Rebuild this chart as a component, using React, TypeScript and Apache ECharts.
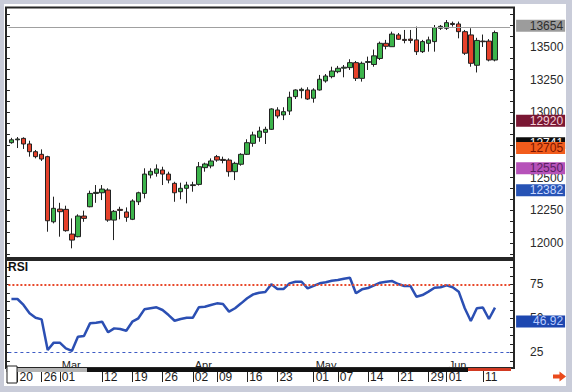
import React, { useEffect, useRef } from "react";
import * as echarts from "echarts";

const FONT = "'Liberation Sans', Arial, sans-serif";

// trading days (MM-DD), Feb 16 .. Jun 13
const dates = [
  "02-16", "02-20", "02-21", "02-22", "02-23",
  "02-26", "02-27", "02-28", "03-01", "03-02",
  "03-05", "03-06", "03-07", "03-08", "03-09",
  "03-12", "03-13", "03-14", "03-15", "03-16",
  "03-19", "03-20", "03-21", "03-22", "03-23",
  "03-26", "03-27", "03-28", "03-29", "03-30",
  "04-02", "04-03", "04-04", "04-05",
  "04-09", "04-10", "04-11", "04-12", "04-13",
  "04-16", "04-17", "04-18", "04-19", "04-20",
  "04-23", "04-24", "04-25", "04-26", "04-27",
  "04-30", "05-01", "05-02", "05-03", "05-04",
  "05-07", "05-08", "05-09", "05-10", "05-11",
  "05-14", "05-15", "05-16", "05-17", "05-18",
  "05-21", "05-22", "05-23", "05-24", "05-25",
  "05-29", "05-30", "05-31", "06-01",
  "06-04", "06-05", "06-06", "06-07", "06-08",
  "06-11", "06-12", "06-13",
];

// [open, close, low, high]
const ohlc = [
  [12768, 12790, 12760, 12805], [12790, 12796, 12727, 12811], [12801, 12758, 12720, 12809],
  [12758, 12699, 12661, 12783], [12699, 12661, 12648, 12712], [12679, 12643, 12628, 12717],
  [12661, 12171, 12087, 12668], [12163, 12266, 12151, 12355], [12260, 12240, 12049, 12308],
  [12258, 12095, 12087, 12286], [12069, 12023, 11960, 12189], [12049, 12207, 12044, 12220],
  [12207, 12189, 12163, 12248], [12278, 12380, 12274, 12401], [12380, 12388, 12308, 12444],
  [12385, 12413, 12329, 12444], [12406, 12176, 12163, 12419], [12176, 12243, 12023, 12253],
  [12258, 12250, 12182, 12278], [12238, 12197, 12163, 12273], [12182, 12322, 12176, 12335],
  [12316, 12385, 12291, 12393], [12380, 12528, 12342, 12572], [12521, 12549, 12495, 12572],
  [12534, 12567, 12508, 12602], [12559, 12528, 12444, 12584], [12528, 12482, 12457, 12546],
  [12457, 12385, 12316, 12469], [12393, 12419, 12335, 12462], [12419, 12444, 12304, 12469],
  [12440, 12446, 12393, 12469], [12449, 12584, 12440, 12620], [12577, 12605, 12546, 12615],
  [12590, 12628, 12572, 12648], [12661, 12635, 12622, 12674], [12640, 12632, 12610, 12661],
  [12635, 12546, 12508, 12648], [12546, 12610, 12482, 12622], [12603, 12679, 12592, 12687],
  [12679, 12768, 12674, 12794], [12763, 12827, 12737, 12852], [12809, 12857, 12775, 12890],
  [12847, 12870, 12758, 12890], [12870, 13026, 12865, 13031], [13018, 12972, 12954, 13039],
  [12980, 13005, 12941, 13039], [13010, 13115, 12980, 13158], [13120, 13171, 13102, 13176],
  [13166, 13176, 13107, 13189], [13171, 13102, 13095, 13192], [13108, 13171, 13074, 13184],
  [13171, 13253, 13166, 13286], [13240, 13278, 13227, 13293], [13273, 13316, 13260, 13349],
  [13311, 13337, 13299, 13355], [13338, 13345, 13268, 13362], [13342, 13380, 13324, 13406],
  [13380, 13260, 13240, 13393], [13260, 13375, 13235, 13388], [13382, 13388, 13324, 13426],
  [13366, 13432, 13349, 13480], [13412, 13528, 13400, 13541], [13528, 13505, 13482, 13554],
  [13502, 13599, 13502, 13617], [13592, 13559, 13554, 13607], [13558, 13550, 13528, 13630],
  [13560, 13550, 13528, 13630], [13554, 13464, 13439, 13656], [13464, 13541, 13454, 13554],
  [13528, 13554, 13464, 13579], [13541, 13648, 13464, 13668], [13643, 13658, 13630, 13668],
  [13643, 13686, 13630, 13706], [13680, 13672, 13656, 13694], [13676, 13617, 13566, 13694],
  [13617, 13452, 13439, 13630], [13592, 13375, 13349, 13643], [13360, 13550, 13305, 13570],
  [13545, 13540, 13500, 13595], [13545, 13400, 13390, 13560], [13400, 13610, 13390, 13625],
];

const rsi = [
  64.2, 64.2, 59.8, 53.7, 50.4, 49.2, 26.7, 32.1, 32.1, 27.9,
  26, 36.5, 37, 46.3, 46.8, 47.5, 39.7, 42.6, 42.1, 40.9,
  47.5, 50, 56.6, 57.4, 58.1, 56.1, 52.4, 48.2, 49.5, 50.4,
  50.4, 58.1, 58.5, 59.8, 61, 60.5, 54.9, 57.4, 61, 64.7,
  67.6, 68.8, 69.3, 75, 71.5, 71.5, 75.7, 76.9, 76.9, 72,
  73.8, 75.7, 76.5, 77.6, 78.2, 79.1, 79.8, 68.4, 71.3, 72.3,
  74.2, 76.2, 76.9, 77.4, 75.2, 73.8, 73.8, 65.9, 67.1, 69.6,
  72.5, 72.8, 74.2, 72.8, 69.6, 57.4, 48, 57.4, 57.9, 49.5, 57.9,
];

const tickDates = [
  "02-20", "02-26", "03-01", "03-12", "03-19", "03-26", "04-02", "04-09", "04-16",
  "04-23", "05-01", "05-07", "05-14", "05-21", "05-29", "06-01", "06-11",
];
const monthDates = ["03-01", "04-02", "05-01", "06-01"];
const monthNames = ["Mar", "Apr", "May", "Jun"];

// 12750 is hidden behind the price tags in the reference
const priceLabels = [12000, 12250, 12500, 13000, 13250, 13500];
const priceMajor = [12000, 12250, 12500, 12750, 13000, 13250, 13500];
const rsiLabels = [25, 50, 75];
const rsiOverbought = 75;
const rsiOversold = 25;
const rsiLast = 46.92;

const tagValues = [13654, 12920, 12741, 12705, 12550, 12382];
const tagBg = ["#9c9c9c", "#7a1733", "#0c0c0c", "#f25c1c", "#b652b9", "#2753b5"];
const tagFg = ["#2e2e2e", "#f3cfd8", "#ffffff", "#7a1500", "#5b1f63", "#c9d8ff"];
const tagDy = [-1, -2, -3, -3, -3, -3];

const PRICE_MIN = 11886;
const PRICE_MAX = 13798;
const RSI_MIN = 13.46;
const RSI_MAX = 92.87;

const cats = [...dates, "", ""];

const priceTicks: number[] = [];
for (let i = -1; i <= priceMajor.length; i++) {
  for (let k = 0; k < 3; k++) {
    const v = 12000 + i * 250 + (k * 250) / 3;
    if (v > PRICE_MIN && v < PRICE_MAX) priceTicks.push(v);
  }
}
const rsiTicks: number[] = [];
for (let i = 0; i < 14; i++) {
  const v = 12.5 + i * 6.25;
  if (v > RSI_MIN && v < RSI_MAX) rsiTicks.push(v);
}

const HIDDEN_LINE = { color: "rgba(0,0,0,0)", width: 1, opacity: 1 };

function tagLabel(text: string, bg: string, fg: string, dy: number) {
  return {
    show: true,
    position: "end",
    distance: 6,
    offset: [0, dy],
    opacity: 1,
    formatter: "{v|" + text + "}",
    backgroundColor: bg,
    padding: [0, 2, 0, 2],
    rich: {
      v: { width: 45, align: "right", color: fg, fontSize: 12, fontFamily: FONT, lineHeight: 12 },
    },
  };
}

export default function App() {
  const ref = useRef<HTMLDivElement>(null);
  useEffect(() => {
    if (!ref.current) return;
    const chart = echarts.init(ref.current, undefined, { renderer: "svg" });
    const axisFont = { fontFamily: FONT, fontSize: 12, color: "#2a2a2a" };
    const gridLeft = 8.4;
    const gridRight = 61.9;

    const priceTagData = tagValues.map((v, i) => ({
      yAxis: v,
      lineStyle: i === 0 ? { color: "#a0a0a0", width: 1, type: "solid" } : HIDDEN_LINE,
      label: tagLabel(String(v), tagBg[i], tagFg[i], tagDy[i]),
    }));

    chart.setOption({
      animation: false,
      backgroundColor: "#c9ccd9",
      grid: [
        { left: gridLeft, right: gridRight, top: 8, height: 250, outerBoundsMode: "none" },
        { left: gridLeft, right: gridRight, top: 260, height: 108, outerBoundsMode: "none" },
      ],
      xAxis: [
        { type: "category", gridIndex: 0, data: cats, boundaryGap: true, show: false },
        {
          type: "category",
          gridIndex: 1,
          data: cats,
          boundaryGap: true,
          position: "bottom",
          axisLine: { show: false, onZero: false },
          axisTick: {
            show: true,
            alignWithLabel: true,
            length: 14,
            interval: (_i: number, v: string) => tickDates.includes(v),
            lineStyle: { color: "#222", width: 1 },
          },
          axisLabel: {
            ...axisFont,
            color: "#1a1a1a",
            interval: (_i: number, v: string) => tickDates.includes(v),
            formatter: (v: string) => v.slice(3),
            align: "left",
            padding: [0, 0, 0, 2],
            margin: 3,
          },
          splitLine: { show: false },
        },
        {
          type: "category",
          gridIndex: 1,
          data: cats,
          boundaryGap: true,
          position: "bottom",
          axisLine: { show: false, onZero: false },
          axisTick: { show: false },
          axisLabel: {
            inside: true,
            fontFamily: FONT,
            fontSize: 11,
            color: "#222",
            interval: (_i: number, v: string) => monthDates.includes(v),
            formatter: (v: string) => {
              const k = monthDates.indexOf(v);
              return k >= 0 ? monthNames[k] : "";
            },
            align: "left",
            padding: [0, 0, 0, 2],
            lineHeight: 11,
            margin: -2,
          },
          splitLine: { show: false },
        },
      ],
      yAxis: [
        {
          type: "value",
          gridIndex: 0,
          position: "right",
          offset: 3.9,
          min: PRICE_MIN,
          max: PRICE_MAX,
          splitLine: { show: false },
          axisLine: { show: true, lineStyle: { color: "#222", width: 1 } },
          axisTick: { show: true, inside: true, length: 4, customValues: priceTicks, lineStyle: { color: "#222" } },
          axisLabel: { ...axisFont, margin: 16, align: "left", customValues: priceLabels, formatter: (v: number) => String(v) },
        },
        {
          type: "value",
          gridIndex: 0,
          position: "left",
          offset: 1.5,
          min: PRICE_MIN,
          max: PRICE_MAX,
          splitLine: { show: false },
          axisLine: { show: false },
          axisTick: { show: true, inside: true, length: 3, customValues: priceTicks, lineStyle: { color: "#222" } },
          axisLabel: { show: false },
        },
        {
          type: "value",
          gridIndex: 1,
          position: "right",
          offset: 3.9,
          min: RSI_MIN,
          max: RSI_MAX,
          splitLine: { show: false },
          axisLine: { show: true, lineStyle: { color: "#222", width: 1 } },
          axisTick: { show: true, inside: true, length: 4, customValues: rsiTicks, lineStyle: { color: "#222" } },
          axisLabel: { ...axisFont, margin: 16, align: "left", customValues: rsiLabels, formatter: (v: number) => String(v) },
        },
        {
          type: "value",
          gridIndex: 1,
          position: "left",
          offset: 1.5,
          min: RSI_MIN,
          max: RSI_MAX,
          splitLine: { show: false },
          axisLine: { show: false },
          axisTick: { show: true, inside: true, length: 3, customValues: rsiTicks, lineStyle: { color: "#222" } },
          axisLabel: { show: false },
        },
      ],
      series: [
        {
          type: "candlestick",
          xAxisIndex: 0,
          yAxisIndex: 0,
          data: ohlc,
          barWidth: 5,
          itemStyle: {
            color: "#3cb44b",
            color0: "#e6412b",
            borderColor: "#222",
            borderColor0: "#222",
            borderWidth: 1,
          },
          markLine: {
            silent: true,
            symbol: ["none", "none"],
            animation: false,
            data: priceTagData,
          },
        },
        {
          type: "line",
          xAxisIndex: 1,
          yAxisIndex: 2,
          data: rsi,
          symbol: "none",
          lineStyle: { color: "#2b4fb3", width: 2.5 },
          markLine: {
            silent: true,
            symbol: ["none", "none"],
            animation: false,
            data: [
              { yAxis: rsiOverbought, lineStyle: { color: "#e8482a", type: [2, 2], width: 2 }, label: { show: false } },
              { yAxis: rsiOversold, lineStyle: { color: "#3d5bc4", type: [3, 3], width: 1 }, label: { show: false } },
              {
                yAxis: rsiLast,
                lineStyle: HIDDEN_LINE,
                label: tagLabel(rsiLast.toFixed(2), "#1d47b0", "#b9ccff", -1),
              },
            ],
          },
        },
      ],
      graphic: [
        { type: "rect", z: -10, silent: true, shape: { x: 4, y: 4, width: 562, height: 382 }, style: { fill: "#ffffff" } },
        { type: "rect", z: 10, silent: true, shape: { x: 6, y: 7.5, width: 508, height: 250.5 }, style: { fill: "none", stroke: "#262626", lineWidth: 2 } },
        { type: "rect", z: 10, silent: true, shape: { x: 6, y: 260, width: 508, height: 108 }, style: { fill: "none", stroke: "#262626", lineWidth: 2 } },
        { type: "rect", z: 11, silent: true, shape: { x: 6, y: 368, width: 81, height: 4 }, style: { fill: "#b4b4b4" } },
        { type: "rect", z: 11, silent: true, shape: { x: 87, y: 368, width: 381, height: 4 }, style: { fill: "#111111" } },
        { type: "rect", z: 11, silent: true, shape: { x: 468, y: 368, width: 43, height: 3 }, style: { fill: "#d23a22" } },
        { type: "rect", z: 12, silent: true, shape: { x: 7, y: 366, width: 10, height: 17 }, style: { fill: "#ffffff", stroke: "#222", lineWidth: 1 } },
        {
          type: "polygon",
          z: 12,
          silent: true,
          shape: { points: [[553, 374.5], [559.5, 374.5], [559.5, 371.5], [566, 376.5], [559.5, 381.5], [559.5, 378.5], [553, 378.5]] },
          style: { fill: "#ea4a1c" },
        },
        {
          type: "text",
          z: 12,
          silent: true,
          x: 8,
          y: 261,
          style: { text: "RSI", fontFamily: FONT, fontSize: 12, fontWeight: "bold", fill: "#111" },
        },
      ],
    });
    return () => chart.dispose();
  }, []);
  return <div ref={ref} style={{ position: "absolute", left: 0, top: 0, width: 572, height: 392 }} />;
}
